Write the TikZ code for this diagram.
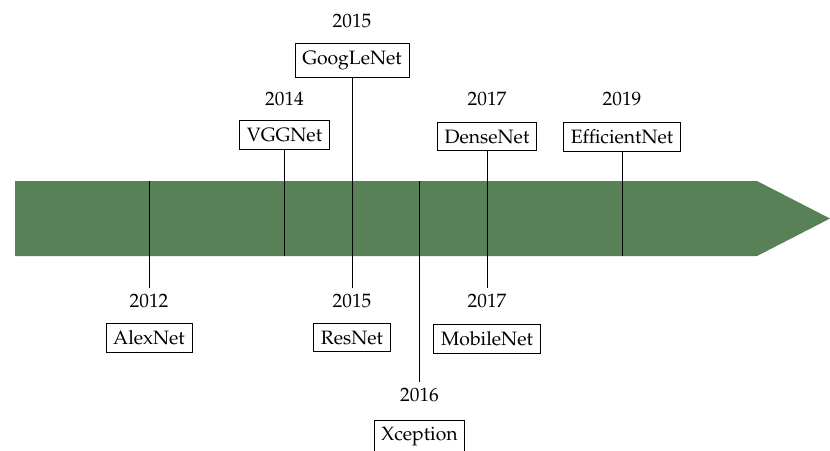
\documentclass[tikz,border=0pt]{standalone}
\usepackage[T1]{fontenc}
\usepackage{mathpazo}
\definecolor{band}{RGB}{88,129,87}
\begin{document}
\begin{tikzpicture}[x=0.5376pt,y=-0.5376pt,
  box/.style={draw,line width=0.45pt,inner sep=3.9pt,font=\fontsize{10.4}{12.5}\selectfont},
  yr/.style={inner sep=3.3pt,font=\fontsize{10.4}{12.5}\selectfont},
  tick/.style={line width=0.45pt}]
\useasboundingbox (0,0) rectangle (830,450);
\fill[band] (15,181) -- (757,181) -- (830,218.5) -- (757,256) -- (15,256) -- cycle;
% top
\node[yr] (y2015t) at (352,21) {2015};
\node[box] (googlenet) at (352,60.5) {GoogLeNet};
\node[yr] (y2014) at (284.5,99) {2014};
\node[box] (vggnet) at (284.5,135) {VGGNet};
\node[yr] (y2017t) at (487,98.5) {2017};
\node[box] (densenet) at (487,136.5) {DenseNet};
\node[yr] (y2019) at (622,98.5) {2019};
\node[box] (efficientnet) at (622,136.5) {EfficientNet};
% bottom
\node[yr] (y2012) at (149,301) {2012};
\node[box] (alexnet) at (149,337.5) {AlexNet};
\node[yr] (y2015b) at (352,301) {2015};
\node[box] (resnet) at (352,337.5) {ResNet};
\node[yr] (y2017b) at (487,301) {2017};
\node[box] (mobilenet) at (487,338.5) {MobileNet};
\node[yr] (y2016) at (419.5,395) {2016};
\node[box] (xception) at (419.5,437) {Xception};
% band points
\coordinate (alexb) at (149,181);
\coordinate (vggb) at (284.5,256);
\coordinate (xcepb) at (419.5,181);
\coordinate (effb) at (622,256);
% ticks
\draw[tick] (alexb) -- (y2012.north);
\draw[tick] (vggnet.south) -- (vggb);
\draw[tick] (googlenet.south) -- (y2015b.north);
\draw[tick] (xcepb) -- (y2016.north);
\draw[tick] (densenet.south) -- (y2017b.north);
\draw[tick] (efficientnet.south) -- (effb);
\end{tikzpicture}
\end{document}
